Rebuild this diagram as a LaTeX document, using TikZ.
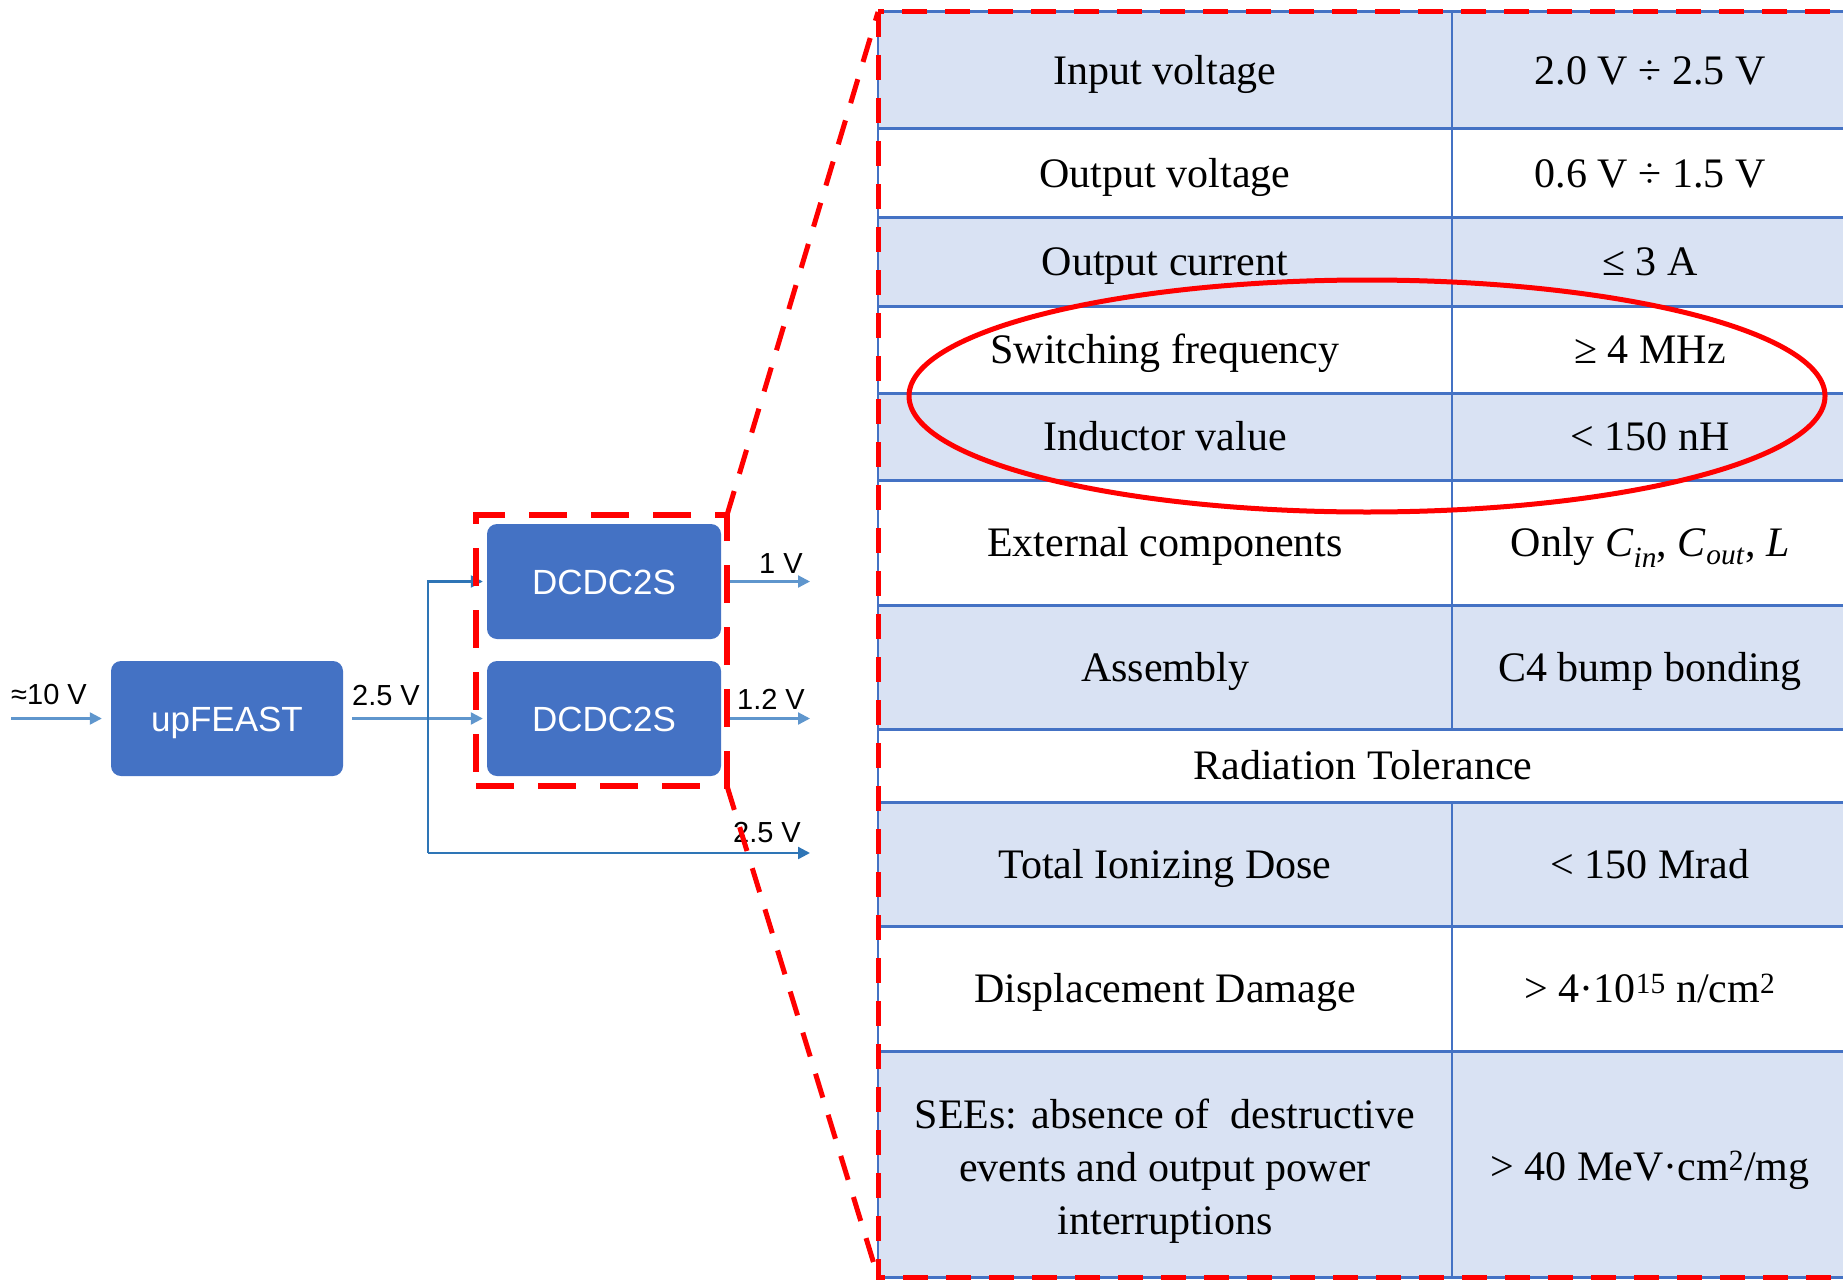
\documentclass[tikz,border=0pt]{standalone}
\usepackage{fontspec}
\setmainfont{Liberation Serif}
\newfontfamily\arialf{Liberation Sans}
\usetikzlibrary{arrows.meta}
\definecolor{boxblue}{HTML}{4472C4}
\definecolor{cellblue}{HTML}{D9E2F3}
\definecolor{gridblue}{HTML}{4472C4}
\definecolor{wiredark}{RGB}{46,117,182}
\definecolor{wirelight}{RGB}{95,150,205}
\definecolor{hlred}{HTML}{FF0000}
\begin{document}
\begin{tikzpicture}[x=1pt,y=-1pt,
  block/.style={draw=none,fill=boxblue,rounded corners=10pt,minimum width=232pt,minimum height=115pt,inner sep=0pt,text=white,font=\arialf\fontsize{35}{42}\selectfont,text height=25pt,text depth=0pt},
  wire/.style={draw=wiredark,line width=2.3pt},
  arr/.style={wire,-{Triangle[length=12pt,width=12pt]}},
  arrlight/.style={arr,draw=wirelight},
  vlabel/.style={anchor=base,inner sep=0pt,font=\arialf\fontsize{29}{35}\selectfont},
  cell/.style={anchor=base,inner sep=0pt,font=\fontsize{42}{53}\selectfont},
  redash/.style={draw=hlred,line width=5pt,dash pattern=on 25pt off 18pt},
  hgrid/.style={draw=gridblue,line width=3pt},
  vgrid/.style={draw=gridblue,line width=2pt}
]
\useasboundingbox (0,0) rectangle (1843,1279);

% ---------- left block diagram ----------
\node[block] (up) at (227,718.5) {upFEAST};
\node[block,minimum width=234pt] (d1) at (604,581.5) {DCDC2S};
\node[block,minimum width=234pt] (d2) at (604,718.5) {DCDC2S};

\coordinate (vin) at (11,718.5);
\coordinate (jtop) at (428,581.5);
\coordinate (jbot) at (428,853);
\coordinate (o1) at (810,581.5);
\coordinate (o2) at (810,718.5);
\coordinate (o3) at (810,853);

\draw[arrlight,shorten >=9pt] (vin) -- (up.west);
\draw[arrlight,shorten <=9pt,shorten >=4pt] (up.east) -- (d2.west);
\draw[arr,shorten >=4pt] (jbot) -- (jtop) -- (d1.west);
\draw[arr] (jbot) -- (o3);
\draw[arrlight,shorten <=3pt] (d1.east) -- (o1);
\draw[arrlight,shorten <=3pt] (d2.east) -- (o2);

\node[vlabel] (l10) at (49,704) {≈10 V};
\node[vlabel] (l25a) at (386,705) {2.5 V};
\node[vlabel] (l1) at (781,573) {1 V};
\node[vlabel] (l12) at (771,709) {1.2 V};
\node[vlabel] (l25b) at (767,842) {2.5 V};

% ---------- table ----------
\foreach \a/\b in {12/129,217/306,393/480,605/729,802/926,1051/1277}
  \fill[cellblue] (878,\a) rectangle (1848,\b);
\foreach \y in {12,129,217,306,393,480,605,729,802,926,1051,1277}
  \draw[hgrid] (878,\y) -- (1848,\y);
\draw[vgrid] (878,12) -- (878,1277);
\draw[vgrid] (1452,12) -- (1452,729);
\draw[vgrid] (1452,802) -- (1452,1277);

\node[cell] (r1a) at (1165,84.5) {Input voltage};
\node[cell] (r1b) at (1650,84.5) {2.0 V ÷ 2.5 V};
\node[cell] (r2a) at (1165,187) {Output voltage};
\node[cell] (r2b) at (1650,187) {0.6 V ÷ 1.5 V};
\node[cell] (r3a) at (1165,275.5) {Output current};
\node[cell] (r3b) at (1650,275.5) {≤ 3 A};
\node[cell] (r4a) at (1165,363.5) {Switching frequency};
\node[cell] (r4b) at (1650,363.5) {≥ 4 MHz};
\node[cell] (r5a) at (1165,450.5) {Inductor value};
\node[cell] (r5b) at (1650,450.5) {< 150 nH};
\node[cell] (r6a) at (1165,556.5) {External components};
\node[cell] (r6b) at (1650,556.5) {Only \textit{C}\textsubscript{\textit{in}}, \textit{C}\textsubscript{\textit{out}}, \textit{L}};
\node[cell] (r7a) at (1165,681) {Assembly};
\node[cell] (r7b) at (1650,681) {C4 bump bonding};
\node[cell] (r8) at (1363,779.5) {Radiation Tolerance};
\node[cell] (r9a) at (1165,878) {Total Ionizing Dose};
\node[cell] (r9b) at (1650,878) {< 150 Mrad};
\node[cell] (r10a) at (1165,1002.5) {Displacement Damage};
\node[cell] (r10b) at (1650,1002.5) {> 4·10\textsuperscript{15} n/cm\textsuperscript{2}};
\node[cell,anchor=north,align=center] (r11a) at (1165,1099) {SEEs: absence of \ destructive\\events and output power\\interruptions};
\node[cell] (r11b) at (1650,1180) {> 40 MeV·cm\textsuperscript{2}/mg};

% ---------- highlights ----------
\draw[draw=hlred,line width=5pt] (1367,396) ellipse [x radius=458pt, y radius=116pt];

\coordinate (tabTL) at (878,12);
\coordinate (tabBL) at (878,1277);
\node[draw=hlred,line width=5.5pt,dash pattern=on 38pt off 24pt,minimum width=251pt,minimum height=271pt,inner sep=0pt,outer sep=0pt] (zoombox) at (601.5,650.5) {};
\draw[redash] (878,12) rectangle (1852,1277);
\draw[redash] (zoombox.north east) -- (tabTL);
\draw[redash] (zoombox.south east) -- (tabBL);
\end{tikzpicture}
\end{document}
